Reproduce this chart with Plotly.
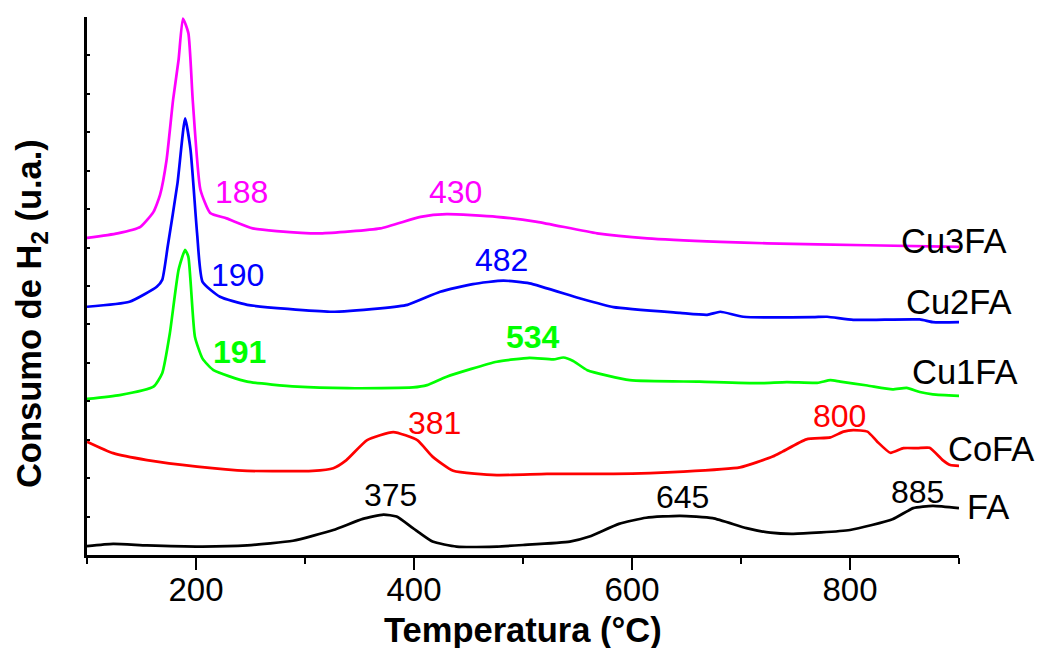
import plotly.graph_objects as go

# ---- data (temperature in °C, H2 consumption in arbitrary units, stacked offsets included) ----
fa_t = [100, 124, 155, 206, 247, 289, 326, 353, 372, 384, 399, 417, 439, 476, 500, 543, 561, 588,
        613, 644, 674, 705, 727, 748, 800, 839, 858, 876, 900]
fa_y = [0.23, 0.29, 0.25, 0.22, 0.25, 0.37, 0.65, 0.94, 1.05, 1.00, 0.70, 0.35, 0.22, 0.22, 0.26,
        0.35, 0.48, 0.81, 0.97, 1.02, 0.96, 0.70, 0.58, 0.55, 0.65, 0.93, 1.22, 1.28, 1.22]

cofa_t = [100, 124, 155, 201, 247, 307, 326, 338, 357, 381, 403, 417, 436, 476, 522, 583, 647, 699,
          729, 738, 760, 782, 794, 803, 816, 825, 837, 849, 862, 873, 885, 892, 901]
cofa_y = [2.95, 2.65, 2.47, 2.30, 2.19, 2.19, 2.26, 2.47, 2.99, 3.20, 2.99, 2.56, 2.19, 2.08, 2.11,
          2.11, 2.17, 2.28, 2.56, 2.69, 3.01, 3.06, 3.21, 3.25, 3.21, 2.95, 2.66, 2.78, 2.78, 2.79,
          2.47, 2.34, 2.32]

cu1_t = [100, 130, 161, 169, 176, 184, 190, 193, 199, 206, 216, 247, 293, 339, 399, 412, 430, 476,
         506, 528, 537, 546, 559, 598, 662, 717, 742, 770, 782, 791, 816, 839, 852, 864, 876, 901]
cu1_y = [4.06, 4.16, 4.38, 4.73, 5.77, 7.42, 7.94, 7.76, 5.68, 5.11, 4.81, 4.51, 4.38, 4.34, 4.36,
         4.42, 4.64, 5.03, 5.13, 5.09, 5.14, 5.05, 4.81, 4.55, 4.51, 4.47, 4.50, 4.48, 4.55, 4.51,
         4.41, 4.31, 4.35, 4.24, 4.18, 4.14]

cu2_t = [100, 139, 164, 169, 174, 183, 190, 195, 201, 206, 222, 247, 323, 369, 394, 424, 454, 482,
         506, 552, 583, 644, 669, 681, 702, 766, 779, 803, 864, 876, 901]
cu2_y = [6.46, 6.59, 6.98, 7.16, 8.02, 9.67, 11.36, 10.54, 8.37, 7.11, 6.72, 6.51, 6.33, 6.42, 6.51,
         6.85, 7.05, 7.14, 7.07, 6.68, 6.45, 6.30, 6.25, 6.33, 6.20, 6.19, 6.20, 6.12, 6.13, 6.06, 6.06]

cu3_t = [100, 128, 149, 161, 167, 173, 179, 184, 188, 193, 197, 204, 213, 228, 252, 274, 314, 369,
         406, 430, 476, 513, 568, 614, 681, 724, 816, 901]
cu3_y = [8.25, 8.37, 8.54, 8.93, 9.37, 10.28, 11.85, 12.88, 13.96, 13.58, 11.84, 9.51, 8.90, 8.76,
         8.50, 8.43, 8.37, 8.50, 8.80, 8.87, 8.80, 8.67, 8.37, 8.24, 8.15, 8.11, 8.06, 8.02]

series_names = ["FA", "CoFA", "Cu1FA", "Cu2FA", "Cu3FA"]
series_colors = ["#000000", "#FF0000", "#00FF00", "#0000FF", "#FF00FF"]

# peak labels
peak_text = ["188", "430", "190", "482", "191", "534", "381", "800", "375", "645", "885"]
peak_x = [242, 438, 238.5, 480, 239.5, 509, 419, 790, 378, 646, 861.5]
peak_y = [9.45, 9.45, 7.29, 7.68, 5.28, 5.67, 3.43, 3.62, 1.56, 1.51, 1.64]
peak_color = ["#FF00FF", "#FF00FF", "#0000FF", "#0000FF", "#00FF00", "#00FF00",
              "#FF0000", "#FF0000", "#000000", "#000000", "#000000"]
peak_bold = [False, False, False, False, True, True, False, False, False, False, False]

# series name labels (x in fraction of plot width, y in data units)
name_x = [1.033, 1.037, 1.006, 0.999, 0.994]
name_y = [1.25, 2.76, 4.76, 6.58, 8.16]

x_ticks = [200, 400, 600, 800]

FONT = "Arial, Liberation Sans, sans-serif"

fig = go.Figure()
for t, y, name, col in zip([fa_t, cofa_t, cu1_t, cu2_t, cu3_t],
                           [fa_y, cofa_y, cu1_y, cu2_y, cu3_y],
                           series_names, series_colors):
    fig.add_trace(go.Scatter(x=t, y=y, mode="lines", name=name,
                             line=dict(color=col, width=2.7, shape="spline", smoothing=0.5),
                             showlegend=False))

annotations = []
for txt, x, y, c, b in zip(peak_text, peak_x, peak_y, peak_color, peak_bold):
    annotations.append(dict(x=x, y=y, xref="x", yref="y", text=f"<b>{txt}</b>" if b else txt,
                            showarrow=False, font=dict(family=FONT, size=32, color=c),
                            xanchor="center", yanchor="middle"))
for txt, x, y in zip(series_names, name_x, name_y):
    annotations.append(dict(x=x, y=y, xref="paper", yref="y", text=txt, showarrow=False,
                            font=dict(family=FONT, size=34.5, color="#000000"),
                            xanchor="center", yanchor="middle"))
# axis titles
annotations.append(dict(x=0.5, y=-0.139, xref="paper", yref="paper",
                        text="<b>Temperatura (°C)</b>", showarrow=False,
                        font=dict(family=FONT, size=34.5, color="#000000"),
                        xanchor="center", yanchor="middle"))
annotations.append(dict(x=-0.063, y=0.448, xref="paper", yref="paper",
                        text="<b>Consumo de H<sub>2</sub> (u.a.)</b>", showarrow=False,
                        textangle=-90, font=dict(family=FONT, size=34.5, color="#000000"),
                        xanchor="center", yanchor="middle"))

fig.update_layout(
    width=1040, height=648,
    margin=dict(l=87, r=81, t=17, b=93),
    paper_bgcolor="white", plot_bgcolor="white",
    font=dict(family=FONT, size=32, color="#000000"),
    annotations=annotations,
)
fig.update_xaxes(range=[100, 900], tickvals=x_ticks, ticks="outside", ticklen=12, tickwidth=2,
                 tickcolor="black", showline=True, linecolor="black", linewidth=2.5,
                 showgrid=False, zeroline=False, mirror=False, ticklabelstandoff=-8,
                 tickfont=dict(family=FONT, size=33, color="black"),
                 minor=dict(tickvals=[100, 300, 500, 700, 900], ticks="outside", ticklen=6,
                            tickwidth=2, tickcolor="black", showgrid=False))
fig.update_yaxes(range=[0, 14], dtick=1, ticks="inside", ticklen=3, tickwidth=1.5,
                 tickcolor="black", showticklabels=False, showline=True, linecolor="black",
                 linewidth=2.5, showgrid=False, zeroline=False)

fig.write_html("out.html", config={"displayModeBar": False},
               post_script="document.body.style.margin='0';document.body.style.padding='0';")
